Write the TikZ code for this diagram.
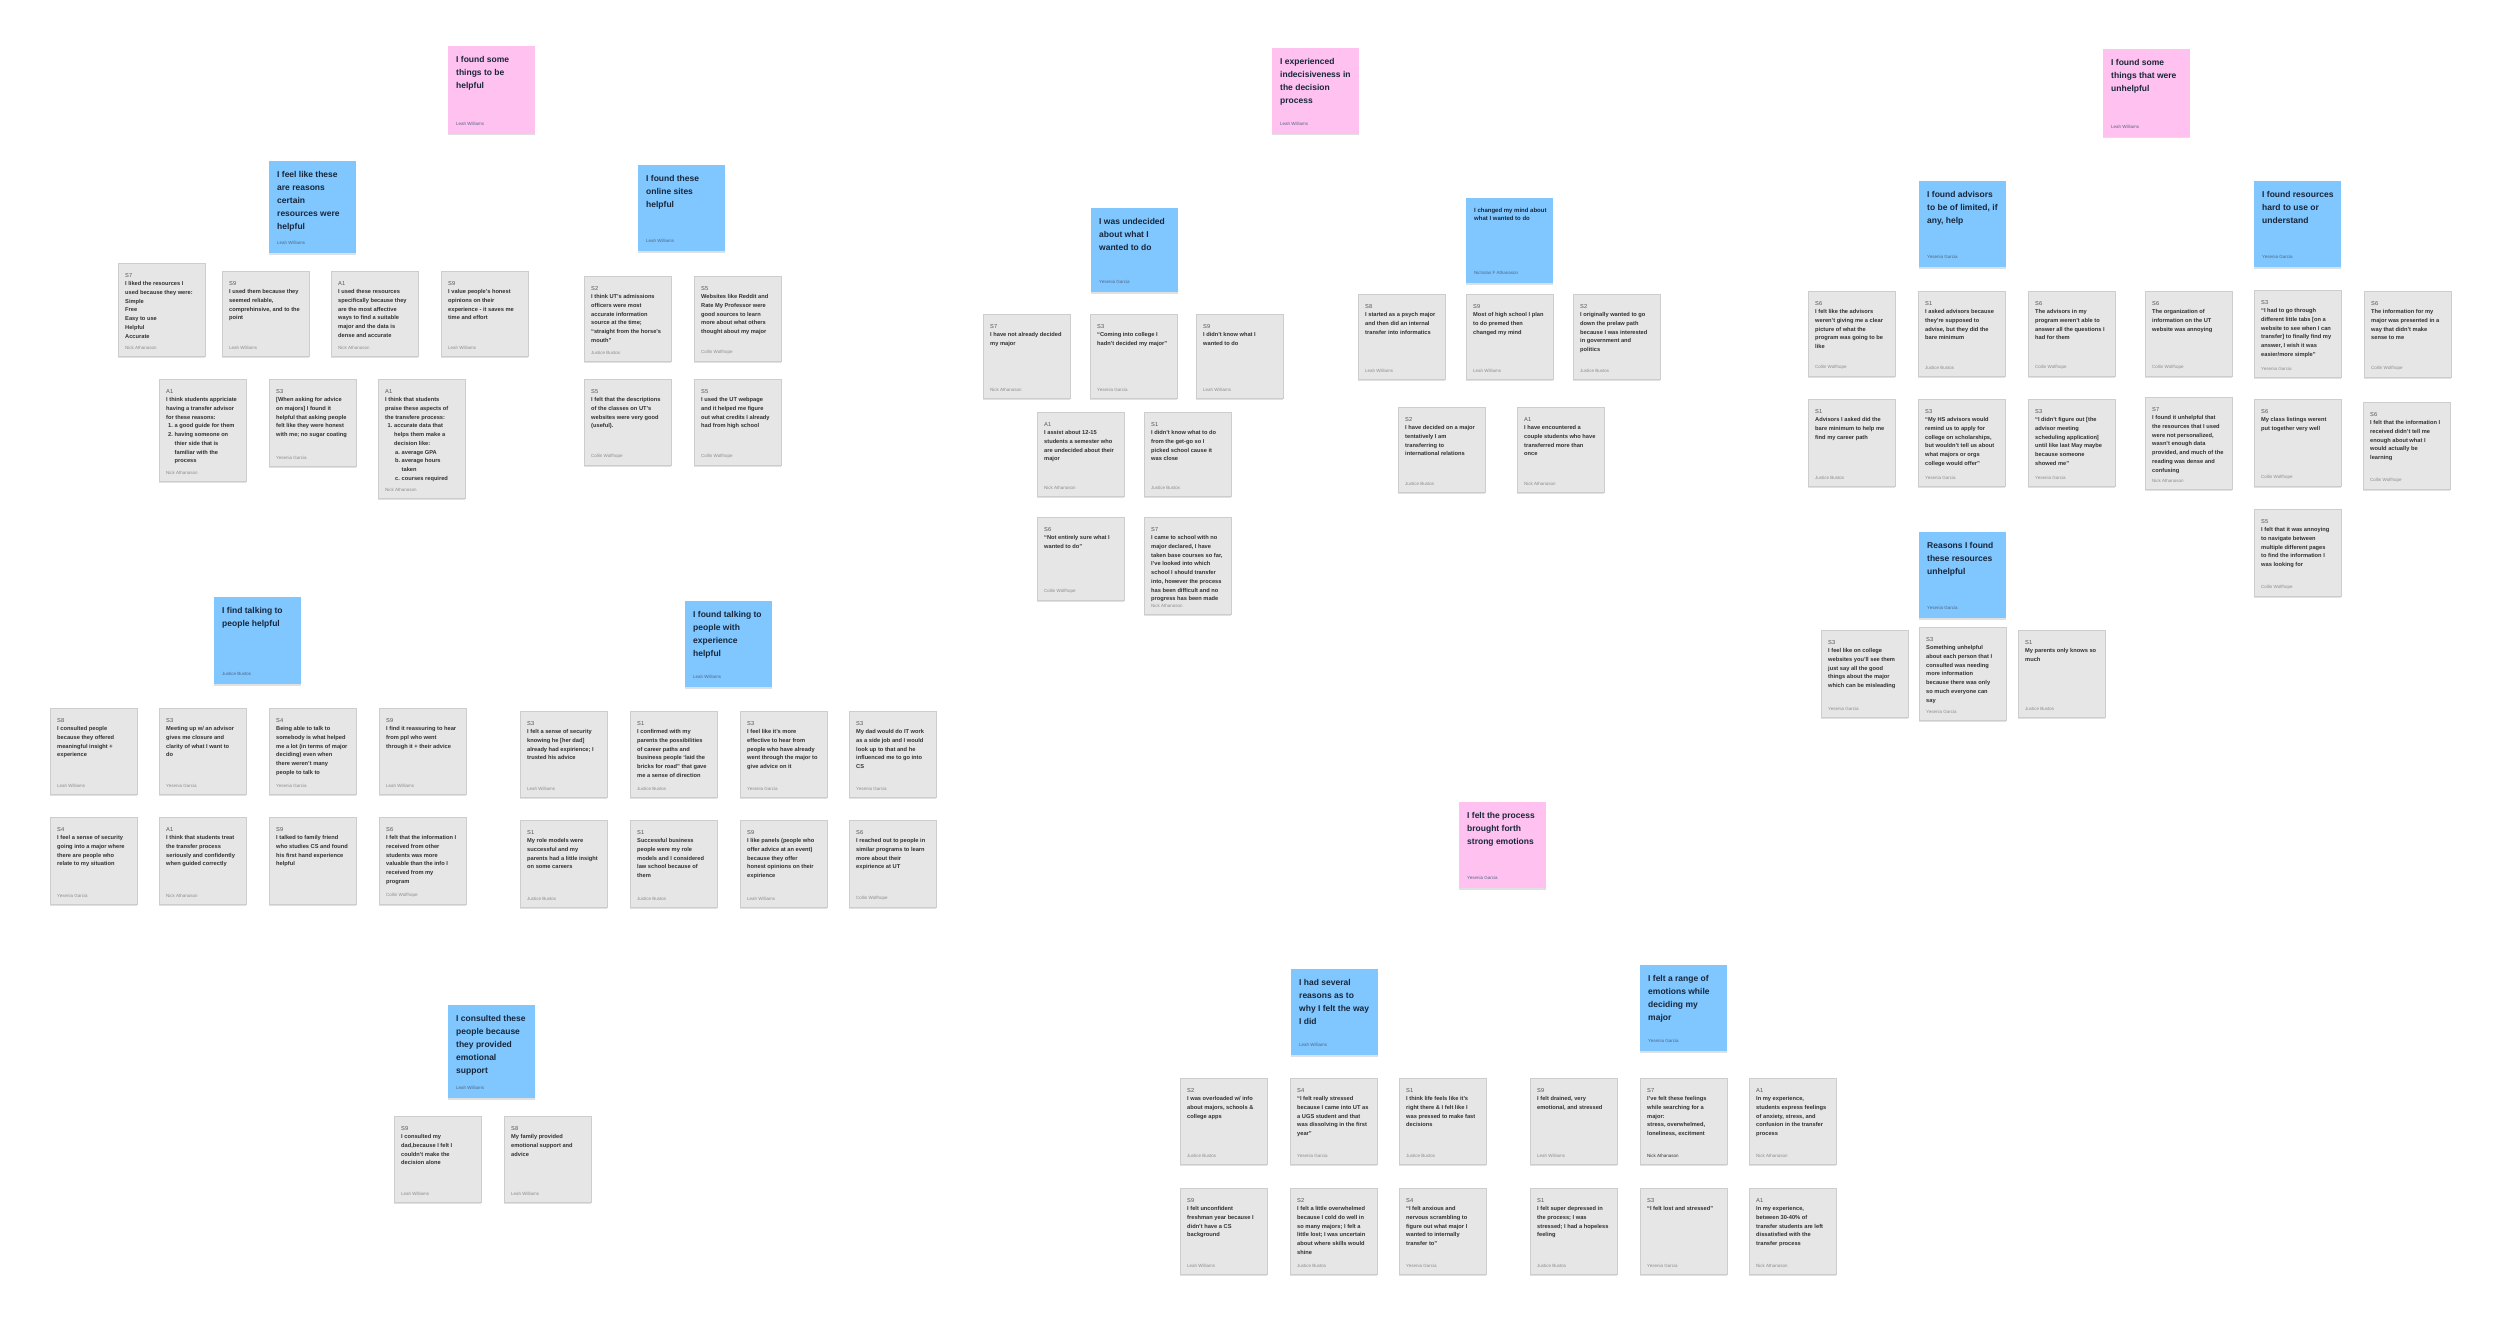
\documentclass[tikz,border=0pt]{standalone}
\usepackage{fontspec}
\setmainfont{Liberation Sans}
\usetikzlibrary{shadows}
\definecolor{cardfill}{RGB}{230,230,230}
\definecolor{cardline}{RGB}{205,205,205}
\definecolor{bluefill}{RGB}{128,199,255}
\definecolor{pinkfill}{RGB}{255,194,240}
\definecolor{headcol}{RGB}{24,38,58}
\definecolor{bodytxt}{RGB}{50,50,50}
\definecolor{labelcol}{RGB}{85,85,85}
\definecolor{authgray}{RGB}{140,140,140}
\definecolor{headauth}{RGB}{80,100,130}
\tikzset{
  shad/.style={drop shadow={shadow xshift=0pt,shadow yshift=-1.5pt,opacity=0.12,fill=black}},
  cardbox/.style={anchor=north west,minimum width=87pt,inner sep=0pt,outer sep=0pt,fill=cardfill,draw=cardline,line width=0.5pt,shad},
  bluebox/.style={anchor=north west,minimum width=87pt,inner sep=0pt,outer sep=0pt,fill=bluefill,shad},
  pinkbox/.style={anchor=north west,minimum width=87pt,inner sep=0pt,outer sep=0pt,fill=pinkfill,shad},
  cardtxt/.style={anchor=north west,inner sep=0pt,align=left,text=bodytxt,font=\fontsize{5.7}{8.7}\selectfont\bfseries},
  cardauth/.style={anchor=south west,inner sep=0pt,text=authgray,font=\fontsize{4.5}{5}\selectfont},
  headtxt/.style={anchor=north west,inner sep=0pt,align=left,text=headcol,font=\fontsize{8.5}{13}\selectfont\bfseries},
  smallhead/.style={anchor=north west,inner sep=0pt,align=left,text=headcol,font=\fontsize{6}{8.4}\selectfont\bfseries},
  noteauth/.style={anchor=south west,inner sep=0pt,text=headauth,font=\fontsize{4.5}{5}\selectfont},
}
\newcommand{\gcard}[7]{%
  \node[cardbox,minimum height=#4pt] (#1) at (#2,#3) {};
  \node[cardtxt] (#1t) at ([xshift=7pt,yshift=-10pt]#1.north west) {{\mdseries\color{labelcol}#5}\\#6};
  \node[cardauth] (#1a) at ([xshift=7pt,yshift=6pt]#1.south west) {#7};
}
\newcommand{\stickynote}[8]{%
  \node[#5,minimum height=#4pt] (#1) at (#2,#3) {};
  \node[#6] (#1t) at ([xshift=8pt,yshift=-10pt]#1.north west) {#7};
  \node[noteauth] (#1a) at ([xshift=8pt,yshift=8pt]#1.south west) {#8};
}
\newcommand{\li}[2]{\hspace*{#1}\makebox[6.5pt][l]{#2}}
\begin{document}
\begin{tikzpicture}[x=1pt,y=-1pt]
\useasboundingbox[fill=white] (0,0) rectangle (2500,1327);

% ---------- pink theme notes
\stickynote{p1}{448}{46}{88}{pinkbox}{headtxt}{I found some\\things to be\\helpful}{Leah Williams}
\stickynote{p2}{1272}{48}{86}{pinkbox}{headtxt}{I experienced\\indecisiveness in\\the decision\\process}{Leah Williams}
\stickynote{p3}{2103}{49}{88}{pinkbox}{headtxt}{I found some\\things that were\\unhelpful}{Leah Williams}
\stickynote{p4}{1459}{802}{86}{pinkbox}{headtxt}{I felt the process\\brought forth\\strong emotions}{Yesenia Garcia}

% ---------- group 1
\stickynote{b1}{269}{161}{92}{bluebox}{headtxt}{I feel like these\\are reasons\\certain\\resources were\\helpful}{Leah Williams}
\gcard{g1a}{118}{263}{93}{S7}{I liked the resources I\\used because they were:\\Simple\\Free\\Easy to use\\Helpful\\Accurate}{Nick Athanoson}
\gcard{g1b}{222}{271}{85}{S9}{I used them because they\\seemed reliable,\\comprehinsive, and to the\\point}{Leah Williams}
\gcard{g1c}{331}{271}{85}{A1}{I used these resources\\specifically because they\\are the most affective\\ways to find a suitable\\major and the data is\\dense and accurate}{Nick Athanoson}
\gcard{g1d}{441}{271}{85}{S9}{I value people’s honest\\opinions on their\\experience - it saves me\\time and effort}{Leah Williams}
\gcard{g1e}{159}{379}{102}{A1}{I think students appriciate\\having a transfer advisor\\for these reasons:\\\li{2pt}{1.}a good guide for them\\\li{2pt}{2.}having someone on\\\hspace*{8.5pt}thier side that is\\\hspace*{8.5pt}familiar with the\\\hspace*{8.5pt}process}{Nick Athanoson}
\gcard{g1f}{269}{379}{87}{S3}{{[}When asking for advice\\on majors{]} I found it\\helpful that asking people\\felt like they were honest\\with me; no sugar coating}{Yesenia Garcia}
\gcard{g1g}{378}{379}{119}{A1}{I think that students\\praise these aspects of\\the transfere process:\\\li{2.5pt}{1.}accurate data that\\\hspace*{9pt}helps them make a\\\hspace*{9pt}decision like:\\\li{10pt}{a.}average GPA\\\li{10pt}{b.}average hours\\\hspace*{16.5pt}taken\\\li{10pt}{c.}courses required}{Nick Athanoson}

% ---------- group 2
\stickynote{b2}{638}{165}{86}{bluebox}{headtxt}{I found these\\online sites\\helpful}{Leah Williams}
\gcard{g2a}{584}{276}{85}{S2}{I think UT’s admissions\\officers were most\\accurate information\\source at the time;\\“straight from the horse’s\\mouth”}{Justice Bustos}
\gcard{g2b}{694}{276}{85}{S5}{Websites like Reddit and\\Rate My Professor were\\good sources to learn\\more about what others\\thought about my major}{Collin Wolfhope}
\gcard{g2c}{584}{379}{86}{S5}{I felt that the descriptions\\of the classes on UT’s\\websites were very good\\(useful).}{Collin Wolfhope}
\gcard{g2d}{694}{379}{86}{S5}{I used the UT webpage\\and it helped me figure\\out what credits I already\\had from high school}{Collin Wolfhope}

% ---------- group 3
\stickynote{b3}{214}{597}{87}{bluebox}{headtxt}{I find talking to\\people helpful}{Justice Bustos}
\gcard{g3a}{50}{708}{86}{S8}{I consulted people\\because they offered\\meaningful insight +\\experience}{Leah Williams}
\gcard{g3b}{159}{708}{86}{S3}{Meeting up w/ an advisor\\gives me closure and\\clarity of what I want to\\do}{Yesenia Garcia}
\gcard{g3c}{269}{708}{86}{S4}{Being able to talk to\\somebody is what helped\\me a lot (in terms of major\\deciding) even when\\there weren’t many\\people to talk to}{Yesenia Garcia}
\gcard{g3d}{379}{708}{86}{S9}{I find it reassuring to hear\\from ppl who went\\through it + their advice}{Leah Williams}
\gcard{g3e}{50}{817}{87}{S4}{I feel a sense of security\\going into a major where\\there are people who\\relate to my situation}{Yesenia Garcia}
\gcard{g3f}{159}{817}{87}{A1}{I think that students treat\\the transfer process\\seriously and confidently\\when guided correctly}{Nick Athanoson}
\gcard{g3g}{269}{817}{87}{S9}{I talked to family friend\\who studies CS and found\\his first hand experience\\helpful}{}
\gcard{g3h}{379}{817}{87}{S6}{I felt that the information I\\received from other\\students was more\\valuable than the info I\\received from my\\program}{Collin Wolfhope}

% ---------- group 4
\stickynote{b4}{685}{601}{86}{bluebox}{headtxt}{I found talking to\\people with\\experience\\helpful}{Leah Williams}
\gcard{g4a}{520}{711}{86}{S3}{I felt a sense of security\\knowing he [her dad]\\already had expirience; I\\trusted his advice}{Leah Williams}
\gcard{g4b}{630}{711}{86}{S1}{I confirmed with my\\parents the possibilities\\of career paths and\\business people ‘laid the\\bricks for road” that gave\\me a sense of direction}{Justice Bustos}
\gcard{g4c}{740}{711}{86}{S3}{I feel like it’s more\\effective to hear from\\people who have already\\went through the major to\\give advice on it}{Yesenia Garcia}
\gcard{g4d}{849}{711}{86}{S3}{My dad would do IT work\\as a side job and I would\\look up to that and he\\influenced me to go into\\CS}{Yesenia Garcia}
\gcard{g4e}{520}{820}{87}{S1}{My role models were\\successful and my\\parents had a little insight\\on some careers}{Justice Bustos}
\gcard{g4f}{630}{820}{87}{S1}{Successful business\\people were my role\\models and I considered\\law school because of\\them}{Justice Bustos}
\gcard{g4g}{740}{820}{87}{S9}{I like panels (people who\\offer advice at an event)\\because they offer\\honest opinions on their\\expirience}{Leah Williams}
\gcard{g4h}{849}{820}{87}{S6}{I reached out to people in\\similar programs to learn\\more about their\\expirience at UT}{Collin Wolfhope}

% ---------- group 5
\stickynote{b5}{448}{1005}{93}{bluebox}{headtxt}{I consulted these\\people because\\they provided\\emotional\\support}{Leah Williams}
\gcard{g5a}{394}{1116}{86}{S9}{I consulted my\\dad,because I felt I\\couldn’t make the\\decision alone}{Leah Williams}
\gcard{g5b}{504}{1116}{86}{S8}{My family provided\\emotional support and\\advice}{Leah Williams}

% ---------- group 6
\stickynote{b6}{1091}{208}{84}{bluebox}{headtxt}{I was undecided\\about what I\\wanted to do}{Yesenia Garcia}
\gcard{g6a}{983}{314}{84}{S7}{I have not already decided\\my major}{Nick Athanoson}
\gcard{g6b}{1090}{314}{84}{S3}{“Coming into college I\\hadn’t decided my major”}{Yesenia Garcia}
\gcard{g6c}{1196}{314}{84}{S9}{I didn’t know what I\\wanted to do}{Leah Williams}
\gcard{g6d}{1037}{412}{84}{A1}{I assist about 12-15\\students a semester who\\are undecided about their\\major}{Nick Athanoson}
\gcard{g6e}{1144}{412}{84}{S1}{I didn’t know what to do\\from the get-go so I\\picked school cause it\\was close}{Justice Bustos}
\gcard{g6f}{1037}{517}{83}{S6}{“Not entirely sure what I\\wanted to do”}{Collin Wolfhope}
\gcard{g6g}{1144}{517}{97}{S7}{I came to school with no\\major declared, I have\\taken base courses so far,\\I’ve looked into which\\school I should transfer\\into, however the process\\has been difficult and no\\progress has been made}{Nick Athanoson}

% ---------- group 7
\stickynote{b7}{1466}{198}{85}{bluebox}{smallhead}{I changed my mind about\\what I wanted to do}{Nicholas F Athanason}
\gcard{g7a}{1358}{294}{85}{S8}{I started as a psych major\\and then did an internal\\transfer into informatics}{Leah Williams}
\gcard{g7b}{1466}{294}{85}{S9}{Most of high school I plan\\to do premed then\\changed my mind}{Leah Williams}
\gcard{g7c}{1573}{294}{85}{S2}{I originally wanted to go\\down the prelaw path\\because I was interested\\in government and\\politics}{Justice Bustos}
\gcard{g7d}{1398}{407}{85}{S2}{I have decided on a major\\tentatively I am\\transferring to\\international relations}{Justice Bustos}
\gcard{g7e}{1517}{407}{85}{A1}{I have encountered a\\couple students who have\\transferred more than\\once}{Nick Athanoson}

% ---------- group 8
\stickynote{b8}{1919}{181}{86}{bluebox}{headtxt}{I found advisors\\to be of limited, if\\any, help}{Yesenia Garcia}
\gcard{g8a}{1808}{291}{85}{S6}{I felt like the advisors\\weren’t giving me a clear\\picture of what the\\program was going to be\\like}{Collin Wolfhope}
\gcard{g8b}{1918}{291}{85}{S1}{I asked advisors because\\they’re supposed to\\advise, but they did the\\bare minimum}{Justice Bustos}
\gcard{g8c}{2028}{291}{85}{S6}{The advisors in my\\program weren’t able to\\answer all the questions I\\had for them}{Collin Wolfhope}
\gcard{g8d}{2145}{291}{85}{S6}{The organization of\\information on the UT\\website was annoying}{Collin Wolfhope}
\gcard{g8e}{1808}{399}{87}{S1}{Advisors I asked did the\\bare minimum to help me\\find my career path}{Justice Bustos}
\gcard{g8f}{1918}{399}{87}{S3}{“My HS advisors would\\remind us to apply for\\college on scholarships,\\but wouldn’t tell us about\\what majors or orgs\\college would offer”}{Yesenia Garcia}
\gcard{g8g}{2028}{399}{87}{S3}{“I didn’t figure out [the\\advisor meeting\\scheduling application]\\until like last May maybe\\because someone\\showed me”}{Yesenia Garcia}
\gcard{g8h}{2145}{397}{92}{S7}{I found it unhelpful that\\the resources that I used\\were not personalized,\\wasn’t enough data\\provided, and much of the\\reading was dense and\\confusing}{Nick Athanoson}

% ---------- group 9
\stickynote{b9}{2254}{181}{86}{bluebox}{headtxt}{I found resources\\hard to use or\\understand}{Yesenia Garcia}
\gcard{g9a}{2254}{290}{87}{S3}{“I had to go through\\different little tabs [on a\\website to see when I can\\transfer] to finally find my\\answer, I wish it was\\easier/more simple”}{Yesenia Garcia}
\gcard{g9b}{2364}{291}{86}{S6}{The information for my\\major was presented in a\\way that didn’t make\\sense to me}{Collin Wolfhope}
\gcard{g9c}{2254}{399}{87}{S6}{My class listings werent\\put together very well}{Collin Wolfhope}
\gcard{g9d}{2363}{402}{87}{S6}{I felt that the information I\\received didn’t tell me\\enough about what I\\would actually be\\learning}{Collin Wolfhope}
\gcard{g9e}{2254}{509}{87}{S5}{I felt that it was annoying\\to navigate between\\multiple different pages\\to find the information I\\was looking for}{Collin Wolfhope}

% ---------- group 10
\stickynote{b10}{1919}{532}{86}{bluebox}{headtxt}{Reasons I found\\these resources\\unhelpful}{Yesenia Garcia}
\gcard{g10a}{1821}{630}{87}{S3}{I feel like on college\\websites you’ll see them\\just say all the good\\things about the major\\which can be misleading}{Yesenia Garcia}
\gcard{g10b}{1919}{627}{93}{S3}{Something unhelpful\\about each person that I\\consulted was needing\\more information\\because there was only\\so much everyone can\\say}{Yesenia Garcia}
\gcard{g10c}{2018}{630}{87}{S1}{My parents only knows so\\much}{Justice Bustos}

% ---------- group 11
\stickynote{b11}{1291}{969}{86}{bluebox}{headtxt}{I had several\\reasons as to\\why I felt the way\\I did}{Leah Williams}
\gcard{g11a}{1180}{1078}{86}{S2}{I was overloaded w/ info\\about majors, schools \&\\college apps}{Justice Bustos}
\gcard{g11b}{1290}{1078}{86}{S4}{“I felt really stressed\\because I came into UT as\\a UGS student and that\\was dissolving in the first\\year”}{Yesenia Garcia}
\gcard{g11c}{1399}{1078}{86}{S1}{I think life feels like it’s\\right there \& I felt like I\\was pressed to make fast\\decisions}{Justice Bustos}
\gcard{g11d}{1180}{1188}{86}{S9}{I felt unconfident\\freshman year because I\\didn’t have a CS\\background}{Leah Williams}
\gcard{g11e}{1290}{1188}{86}{S2}{I felt a little overwhelmed\\because I cold do well in\\so many majors; I felt a\\little lost; I was uncertain\\about where skills would\\shine}{Justice Bustos}
\gcard{g11f}{1399}{1188}{86}{S4}{“I felt anxious and\\nervous scrambling to\\figure out what major I\\wanted to internally\\transfer to”}{Yesenia Garcia}

% ---------- group 12
\stickynote{b12}{1640}{965}{86}{bluebox}{headtxt}{I felt a range of\\emotions while\\deciding my\\major}{Yesenia Garcia}
\gcard{g12a}{1530}{1078}{86}{S9}{I felt drained, very\\emotional, and stressed}{Leah Williams}
\gcard{g12b}{1640}{1078}{86}{S7}{I’ve felt these feelings\\while searching for a\\major:\\stress, overwhelmed,\\loneliness, excitment}{\color{bodytxt}Nick Athanason}
\gcard{g12c}{1749}{1078}{86}{A1}{In my experience,\\students express feelings\\of anxiety, stress, and\\confusion in the transfer\\process}{Nick Athanoson}
\gcard{g12d}{1530}{1188}{86}{S1}{I felt super depressed in\\the process; I was\\stressed; I had a hopeless\\feeling}{Justice Bustos}
\gcard{g12e}{1640}{1188}{86}{S3}{“I felt lost and stressed”}{Yesenia Garcia}
\gcard{g12f}{1749}{1188}{86}{A1}{In my experience,\\between 30-40\% of\\transfer students are left\\dissatisfied with the\\transfer process}{Nick Athanoson}
\end{tikzpicture}
\end{document}
